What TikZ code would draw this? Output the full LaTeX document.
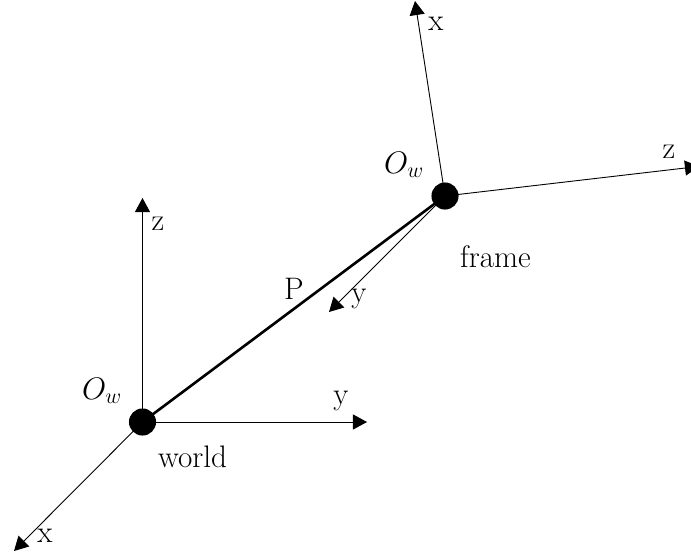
\RequirePackage{fix-cm}
\documentclass[tikz,border=0pt]{standalone}
\usepackage{amsmath}
\usepackage{tikz}
\usetikzlibrary{arrows.meta, positioning}

\begin{document}
\begin{tikzpicture}[
    x=0.996264pt,
    y=-0.996264pt,
    origin/.style={circle, fill=black, inner sep=0pt, minimum size=27pt},
    axis/.style={-{Triangle[length=14pt,width=15pt]}, line width=0.9pt},
    axislabel/.style={inner sep=0pt, font=\fontsize{31}{36}\selectfont},
    link/.style={line width=2.6pt}
]
\useasboundingbox (0,0) rectangle (691,556);

\node[origin] (world) at (142.5,422) {};
\node[origin] (frame) at (445,196) {};

\coordinate (wz) at (142.5,198);
\coordinate (wy) at (367,422);
\coordinate (wx) at (14,551);
\coordinate (fx) at (415,1);
\coordinate (fz) at (699,166.4);
\coordinate (fy) at (329,312);

\draw[axis] (world.center) -- (wz);
\draw[axis] (world.center) -- (wy);
\draw[axis] (world.center) -- (wx);
\draw[axis] (frame.center) -- (fx);
\draw[axis] (frame.center) -- (fz);
\draw[axis] (frame.center) -- (fy);
\draw[link] (world.center) -- (frame.center);

\node[axislabel] (wzlabel) at (158,224) {z};
\node[axislabel] (wylabel) at (341,401) {y};
\node[axislabel] (wxlabel) at (45,536) {x};
\node[axislabel] (fxlabel) at (436,24) {x};
\node[axislabel] (fzlabel) at (669,152) {z};
\node[axislabel] (fylabel) at (359,299) {y};
\node[axislabel] (plabel) at (294,289) {P};
\node[axislabel] (wolabel) at (102,391) {$O_w$};
\node[axislabel] (folabel) at (404,165) {$O_w$};
\node[axislabel] (wname) at (192.5,457) {world};
\node[axislabel] (fname) at (495.5,257) {frame};
\end{tikzpicture}
\end{document}
